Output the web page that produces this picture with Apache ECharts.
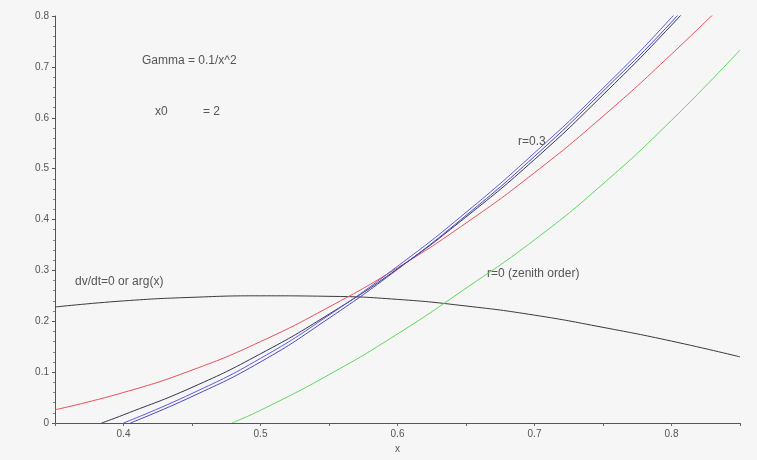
<!DOCTYPE html>
<html>
<head>
<meta charset="utf-8">
<script src="https://cdn.jsdelivr.net/npm/echarts@6/dist/echarts.min.js"></script>
<style>
  html, body { margin: 0; padding: 0; background: #f6f6f6; }
  #chart { width: 757px; height: 460px; }
</style>
</head>
<body>
<div id="chart"></div>
<script>
// values
const xGrid = [0.35, 0.40, 0.45, 0.50, 0.55, 0.60, 0.65, 0.70, 0.75, 0.80, 0.85]
const redY = [0.026, 0.060, 0.104, 0.160, 0.228, 0.305, 0.393, 0.492, 0.603, 0.725, 0.855]
const dvdtY = [0.228, 0.240, 0.247, 0.250, 0.249, 0.243, 0.230, 0.212, 0.188, 0.161, 0.130]

const blackX = [0.384, 0.40, 0.45, 0.50, 0.55, 0.60, 0.65, 0.70, 0.75, 0.80, 0.85]
const blackY = [0, 0.016, 0.070, 0.136, 0.214, 0.303, 0.405, 0.518, 0.645, 0.782, 0.930]

const blue1X = [0.40, 0.45, 0.50, 0.55, 0.60, 0.65, 0.70, 0.75, 0.80, 0.85]
const blue1Y = [0, 0.058, 0.127, 0.212, 0.308, 0.414, 0.531, 0.658, 0.797, 0.951]

const blue2X = [0.405, 0.45, 0.50, 0.55, 0.60, 0.65, 0.70, 0.75, 0.80, 0.85]
const blue2Y = [0, 0.052, 0.120, 0.206, 0.302, 0.408, 0.524, 0.652, 0.788, 0.940]

const greenX = [0.479, 0.50, 0.55, 0.60, 0.65, 0.70, 0.75, 0.80, 0.85]
const greenY = [0, 0.025, 0.095, 0.175, 0.265, 0.360, 0.470, 0.595, 0.733]

const xTicks = [0.4, 0.5, 0.6, 0.7, 0.8]
const yTicks = [0, 0.1, 0.2, 0.3, 0.4, 0.5, 0.6, 0.7, 0.8]

const pairs = (xs, ys) => xs.map((x, i) => [x, ys[i]])
const pick = (list, v) => {
  const t = list.find(k => Math.abs(k - v) < 1e-6)
  return t === undefined ? '' : String(t)
}

const textColor = '#555'
const font = 'Liberation Sans, Arial, sans-serif'

const chart = echarts.init(document.getElementById('chart'))

function curve (name, xs, ys, color) {
  return {
    name: name,
    type: 'line',
    smooth: true,
    symbol: 'none',
    clip: true,
    lineStyle: { color: color, width: 1 },
    data: pairs(xs, ys)
  }
}

function note (text, left, top) {
  return { type: 'text', left: left, top: top, style: { text: text, fill: textColor, font: '12px ' + font } }
}

chart.setOption({
  backgroundColor: '#f6f6f6',
  animation: false,
  grid: { left: 55, top: 16, right: 17, bottom: 37 },
  xAxis: {
    type: 'value',
    min: 0.35,
    max: 0.85,
    interval: 0.05,
    name: 'x',
    nameLocation: 'middle',
    nameGap: 20,
    nameTextStyle: { color: textColor, fontSize: 10, fontFamily: font },
    axisLine: { onZero: false, lineStyle: { color: '#555', width: 1 } },
    axisTick: { show: true, length: 3, lineStyle: { color: '#666' } },
    axisLabel: {
      color: textColor, fontSize: 10, fontFamily: font, margin: 6,
      formatter: v => pick(xTicks, v)
    },
    splitLine: { show: false }
  },
  yAxis: {
    type: 'value',
    min: 0,
    max: 0.8,
    interval: 0.1,
    axisLine: { show: true, lineStyle: { color: '#555', width: 1 } },
    axisTick: { show: true, length: 3, lineStyle: { color: '#555' } },
    minorTick: { show: true, splitNumber: 5, length: 2, lineStyle: { color: '#888' } },
    axisLabel: {
      color: textColor, fontSize: 10, fontFamily: font, margin: 6,
      formatter: v => pick(yTicks, v)
    },
    splitLine: { show: false }
  },
  series: [
    curve('dvdt', xGrid, dvdtY, '#3a3a3a'),
    curve('red', xGrid, redY, '#e8505a'),
    curve('green', greenX, greenY, '#5fd65f'),
    curve('black', blackX, blackY, '#333355'),
    curve('blue1', blue1X, blue1Y, '#5a5ae0'),
    curve('blue2', blue2X, blue2Y, '#4848c8')
  ],
  graphic: [
    note('Gamma = 0.1/x^2', 142, 55),
    note('x0', 155, 106),
    note('= 2', 203, 106),
    note('dv/dt=0 or arg(x)', 75, 276),
    note('r=0.3', 518, 136),
    note('r=0 (zenith order)', 487, 268)
  ]
})
</script>
</body>
</html>
